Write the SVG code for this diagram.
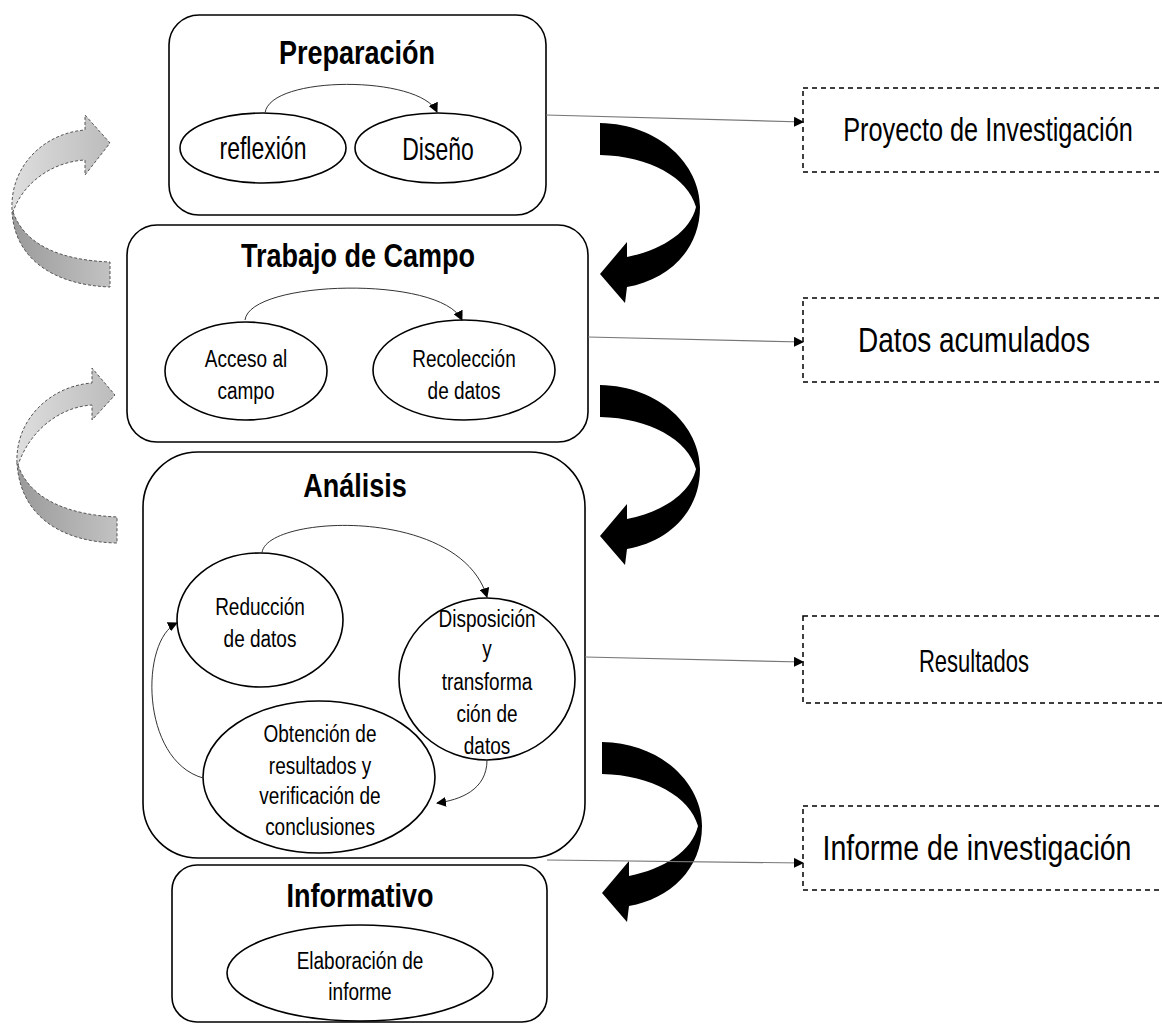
<svg xmlns="http://www.w3.org/2000/svg" width="1162" height="1024" viewBox="0 0 1162 1024">
<defs>
<style>
.box{fill:#fff;stroke:#000;stroke-width:1.6}
.ell{fill:#fff;stroke:#000;stroke-width:1.6}
.out{fill:#fff;stroke:#000;stroke-width:1.5;stroke-dasharray:5 4}
.title{font-family:"Liberation Sans",Arial,sans-serif;font-weight:bold;font-size:27px;text-anchor:middle;fill:#000}
.t{font-family:"Liberation Sans",Arial,sans-serif;font-size:19px;text-anchor:middle;fill:#000}
.tb{font-family:"Liberation Sans",Arial,sans-serif;font-size:23px;text-anchor:middle;fill:#000}
.lab{font-family:"Liberation Sans",Arial,sans-serif;font-size:25px;text-anchor:middle;fill:#000}
.c{fill:none;stroke:#333;stroke-width:1}
.lk{fill:none;stroke:#777;stroke-width:1.2}
.blk{fill:#000}
.gu{fill:url(#gUp);stroke:#555;stroke-width:1;stroke-dasharray:3 2}
.gl{fill:url(#gLo);stroke:#555;stroke-width:1;stroke-dasharray:3 2}
</style>
<marker id="ah" markerWidth="10" markerHeight="10" refX="9" refY="5" orient="auto" markerUnits="userSpaceOnUse">
<path d="M0,0 L10,5 L0,10 Z" fill="#000"/>
</marker>
<linearGradient id="gUp" x1="0" y1="0" x2="1" y2="0">
<stop offset="0" stop-color="#dedede"/>
<stop offset="1" stop-color="#bcbcbc"/>
</linearGradient>
<linearGradient id="gLo" x1="0" y1="0" x2="1" y2="0">
<stop offset="0" stop-color="#9a9a9a"/>
<stop offset="1" stop-color="#c2c2c2"/>
</linearGradient>
<path id="bigArrow" d="M600,123 C660,124 700,165 700,207 C700,250 668,280 627,287 L625,303 L600,274 L627,242 L627,257 C662,250 690,232 696,207 C688,178 650,156 600,155 Z"/>
</defs>

<g id="grey-arrows">
<path class="gl" d="M13,212 C25,245 60,260 110,262 L110,287 C55,285 15,260 12,212 Z"/>
<path class="gu" d="M12,210 C10,165 45,133 85,130 L85,115 L110,143 L85,175 L85,160 C50,162 22,185 13,212 Z"/>
<path class="gl" d="M18,465 C30,500 70,515 117,517 L117,543 C60,542 20,515 17,463 Z"/>
<path class="gu" d="M17,463 C15,420 50,386 92,383 L92,368 L115,395 L92,420 L92,405 C60,407 30,430 18,465 Z"/>
</g>

<g id="black-arrows" class="blk">
<use href="#bigArrow"/>
<use href="#bigArrow" transform="translate(0,262)"/>
<use href="#bigArrow" transform="translate(2,619)"/>
</g>

<g id="node-preparacion">
<rect class="box" x="169" y="15" width="377" height="200" rx="30"/>
<text class="title" transform="translate(357,64) scale(1,1.25)">Preparación</text>
<ellipse class="ell" cx="263" cy="148" rx="83" ry="35"/>
<text class="tb" transform="translate(263,159) scale(1,1.35)">reflexión</text>
<ellipse class="ell" cx="438" cy="148" rx="83" ry="35"/>
<text class="tb" transform="translate(438,160) scale(1,1.35)">Diseño</text>
</g>

<g id="node-trabajo">
<rect class="box" x="127" y="225" width="461" height="217" rx="30"/>
<text class="title" transform="translate(358,267) scale(1,1.25)">Trabajo de Campo</text>
<ellipse class="ell" cx="246" cy="371" rx="81" ry="49"/>
<text class="t" transform="translate(246,367) scale(1,1.3)">Acceso al</text>
<text class="t" transform="translate(246,399) scale(1,1.3)">campo</text>
<ellipse class="ell" cx="464" cy="370" rx="91" ry="50"/>
<text class="t" transform="translate(464,367) scale(1,1.3)">Recolección</text>
<text class="t" transform="translate(464,399) scale(1,1.3)">de datos</text>
</g>

<g id="node-analisis">
<rect class="box" x="143" y="452" width="442" height="406" rx="55"/>
<text class="title" transform="translate(355,497) scale(1,1.25)">Análisis</text>
<ellipse class="ell" cx="260" cy="620" rx="83" ry="67"/>
<text class="t" transform="translate(260,615) scale(1,1.3)">Reducción</text>
<text class="t" transform="translate(260,647) scale(1,1.3)">de datos</text>
<ellipse class="ell" cx="487" cy="679" rx="88" ry="81"/>
<text class="t" transform="translate(487,627) scale(1,1.3)">Disposición</text>
<text class="t" transform="translate(487,657) scale(1,1.3)">y</text>
<text class="t" transform="translate(487,690) scale(1,1.3)">transforma</text>
<text class="t" transform="translate(487,722) scale(1,1.3)">ción de</text>
<text class="t" transform="translate(487,754) scale(1,1.3)">datos</text>
<ellipse class="ell" cx="319" cy="777" rx="116" ry="76"/>
<text class="t" transform="translate(320,742) scale(1,1.3)">Obtención de</text>
<text class="t" transform="translate(320,774) scale(1,1.3)">resultados y</text>
<text class="t" transform="translate(320,804) scale(1,1.3)">verificación de</text>
<text class="t" transform="translate(320,835) scale(1,1.3)">conclusiones</text>
</g>

<g id="node-informativo">
<rect class="box" x="172" y="865" width="375" height="157" rx="25"/>
<text class="title" transform="translate(360,907) scale(1,1.25)">Informativo</text>
<ellipse class="ell" cx="360" cy="973" rx="133" ry="48"/>
<text class="t" transform="translate(360,969) scale(1,1.3)">Elaboración de</text>
<text class="t" transform="translate(360,1000) scale(1,1.3)">informe</text>
</g>

<g id="node-proyecto">
<rect class="out" x="803" y="88" width="370" height="84"/>
<text class="lab" style="font-size:25.3px" transform="translate(988,141) scale(1,1.3)">Proyecto de Investigación</text>
</g>
<g id="node-datos">
<rect class="out" x="803" y="298" width="370" height="84"/>
<text class="lab" style="font-size:28px" transform="translate(974,352) scale(1,1.25)">Datos acumulados</text>
</g>
<g id="node-resultados">
<rect class="out" x="803" y="616" width="370" height="87"/>
<text class="lab" style="font-size:22px" transform="translate(974,672) scale(1,1.4)">Resultados</text>
</g>
<g id="node-informe">
<rect class="out" x="803" y="806" width="370" height="84"/>
<text class="lab" style="font-size:28.5px" transform="translate(977,860) scale(1,1.2)">Informe de investigación</text>
</g>

<g id="connectors">
<path class="c" marker-end="url(#ah)" d="M265,113 C270,75 420,75 437,112"/>
<path class="c" marker-end="url(#ah)" d="M245,320 C250,280 440,275 462,320"/>
<path class="c" marker-end="url(#ah)" d="M262,553 C265,515 460,505 487,597"/>
<path class="c" marker-end="url(#ah)" d="M203,778 C140,760 140,640 177,623"/>
<path class="c" marker-end="url(#ah)" d="M487,760 C487,790 460,800 437,803"/>
<path class="lk" marker-end="url(#ah)" d="M546,115 L803,122"/>
<path class="lk" marker-end="url(#ah)" d="M588,337 L803,342"/>
<path class="lk" marker-end="url(#ah)" d="M585,657 L803,662"/>
<path class="lk" marker-end="url(#ah)" d="M547,860 L803,863"/>
</g>
</svg>
